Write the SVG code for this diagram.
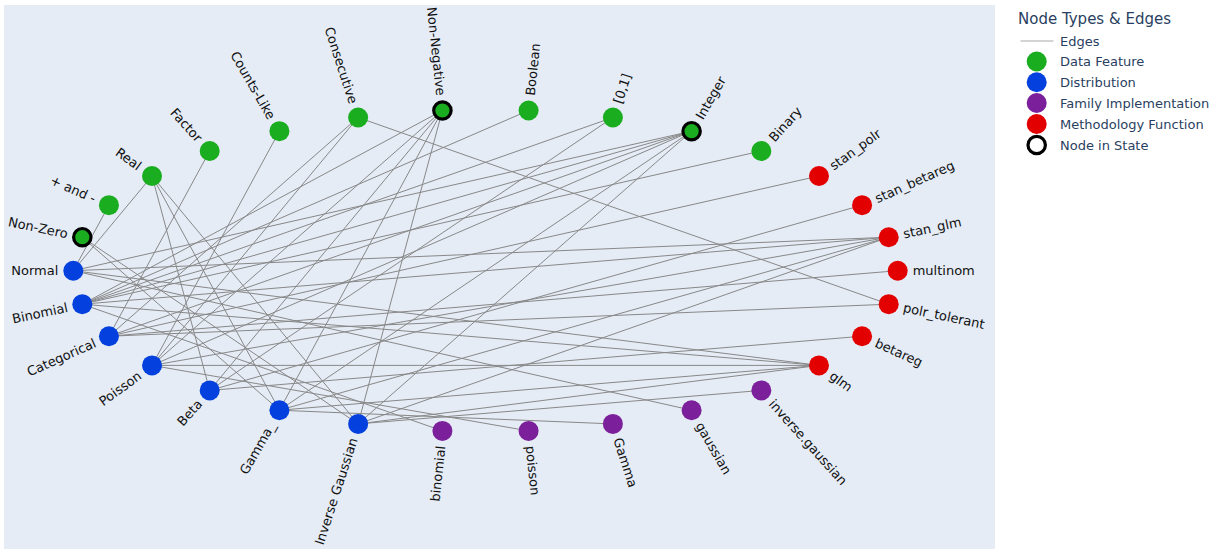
<svg xmlns="http://www.w3.org/2000/svg" width="1216" height="557" viewBox="0 0 1216 557">
<style>
.e{stroke:#888;stroke-width:1;fill:none}
.lbl{font-family:"DejaVu Sans",Verdana,sans-serif;font-size:13px;fill:#111}
.st{text-anchor:start}
.en{text-anchor:end}
.df{fill:#1aad1f}
.di{fill:#0340de}
.fi{fill:#7b1f9b}
.mf{fill:#e30000}
.ins{stroke:#000;stroke-width:3.2}
.leg{font-family:"DejaVu Sans",Verdana,sans-serif;font-size:13px;fill:#2a3f5f}
</style>
<rect x="0" y="0" width="1216" height="557" fill="#ffffff"/>
<rect x="4" y="5" width="991" height="544" fill="#e5ecf6"/>
<g id="edges">
<line class="e" x1="108.93" y1="205.17" x2="73.3" y2="270.7"/>
<line class="e" x1="152.02" y1="176.01" x2="73.3" y2="270.7"/>
<line class="e" x1="152.02" y1="176.01" x2="209.68" y2="390.42"/>
<line class="e" x1="152.02" y1="176.01" x2="279.4" y2="410.22"/>
<line class="e" x1="152.02" y1="176.01" x2="358.12" y2="423.92"/>
<line class="e" x1="82.31" y1="237.21" x2="279.4" y2="410.22"/>
<line class="e" x1="82.31" y1="237.21" x2="358.12" y2="423.92"/>
<line class="e" x1="209.68" y1="150.98" x2="108.93" y2="336.23"/>
<line class="e" x1="279.4" y1="131.18" x2="152.02" y2="365.39"/>
<line class="e" x1="358.12" y1="117.48" x2="108.93" y2="336.23"/>
<line class="e" x1="358.12" y1="117.48" x2="152.02" y2="365.39"/>
<line class="e" x1="358.12" y1="117.48" x2="888.69" y2="304.19"/>
<line class="e" x1="442.41" y1="110.48" x2="82.31" y2="304.19"/>
<line class="e" x1="442.41" y1="110.48" x2="152.02" y2="365.39"/>
<line class="e" x1="442.41" y1="110.48" x2="209.68" y2="390.42"/>
<line class="e" x1="442.41" y1="110.48" x2="279.4" y2="410.22"/>
<line class="e" x1="442.41" y1="110.48" x2="358.12" y2="423.92"/>
<line class="e" x1="528.59" y1="110.48" x2="82.31" y2="304.19"/>
<line class="e" x1="612.88" y1="117.48" x2="82.31" y2="304.19"/>
<line class="e" x1="612.88" y1="117.48" x2="209.68" y2="390.42"/>
<line class="e" x1="691.6" y1="131.18" x2="73.3" y2="270.7"/>
<line class="e" x1="691.6" y1="131.18" x2="82.31" y2="304.19"/>
<line class="e" x1="691.6" y1="131.18" x2="108.93" y2="336.23"/>
<line class="e" x1="691.6" y1="131.18" x2="152.02" y2="365.39"/>
<line class="e" x1="691.6" y1="131.18" x2="279.4" y2="410.22"/>
<line class="e" x1="691.6" y1="131.18" x2="358.12" y2="423.92"/>
<line class="e" x1="761.32" y1="150.98" x2="82.31" y2="304.19"/>
<line class="e" x1="818.98" y1="176.01" x2="108.93" y2="336.23"/>
<line class="e" x1="862.07" y1="205.17" x2="209.68" y2="390.42"/>
<line class="e" x1="888.69" y1="237.21" x2="73.3" y2="270.7"/>
<line class="e" x1="888.69" y1="237.21" x2="82.31" y2="304.19"/>
<line class="e" x1="888.69" y1="237.21" x2="152.02" y2="365.39"/>
<line class="e" x1="888.69" y1="237.21" x2="279.4" y2="410.22"/>
<line class="e" x1="888.69" y1="237.21" x2="358.12" y2="423.92"/>
<line class="e" x1="897.7" y1="270.7" x2="108.93" y2="336.23"/>
<line class="e" x1="888.69" y1="304.19" x2="108.93" y2="336.23"/>
<line class="e" x1="862.07" y1="336.23" x2="209.68" y2="390.42"/>
<line class="e" x1="818.98" y1="365.39" x2="73.3" y2="270.7"/>
<line class="e" x1="818.98" y1="365.39" x2="82.31" y2="304.19"/>
<line class="e" x1="818.98" y1="365.39" x2="152.02" y2="365.39"/>
<line class="e" x1="818.98" y1="365.39" x2="279.4" y2="410.22"/>
<line class="e" x1="818.98" y1="365.39" x2="358.12" y2="423.92"/>
<line class="e" x1="691.6" y1="410.22" x2="73.3" y2="270.7"/>
<line class="e" x1="442.41" y1="430.92" x2="82.31" y2="304.19"/>
<line class="e" x1="528.59" y1="430.92" x2="152.02" y2="365.39"/>
<line class="e" x1="612.88" y1="423.92" x2="279.4" y2="410.22"/>
<line class="e" x1="761.32" y1="390.42" x2="358.12" y2="423.92"/>
</g>
<g id="n-multinom"><circle class="mf" cx="897.7" cy="270.7" r="10"/><text class="lbl st" x="912.7" y="270.7" dy="0.35em">multinom</text></g>
<g id="n-stan_glm"><circle class="mf" cx="888.69" cy="237.21" r="10"/><text class="lbl st" x="903.36" y="234.09" dy="0.35em" transform="rotate(-12 903.36 234.09)">stan_glm</text></g>
<g id="n-stan_betareg"><circle class="mf" cx="862.07" cy="205.17" r="10"/><text class="lbl st" x="875.77" y="199.07" dy="0.35em" transform="rotate(-24 875.77 199.07)">stan_betareg</text></g>
<g id="n-stan_polr"><circle class="mf" cx="818.98" cy="176.01" r="10"/><text class="lbl st" x="831.12" y="167.19" dy="0.35em" transform="rotate(-36 831.12 167.19)">stan_polr</text></g>
<g id="n-binary"><circle class="df" cx="761.32" cy="150.98" r="10"/><text class="lbl st" x="771.36" y="139.83" dy="0.35em" transform="rotate(-48 771.36 139.83)">Binary</text></g>
<g id="n-integer"><circle class="df ins" cx="691.6" cy="131.18" r="8.7"/><text class="lbl st" x="699.1" y="118.19" dy="0.35em" transform="rotate(-60 699.1 118.19)">Integer</text></g>
<g id="n-01"><circle class="df" cx="612.88" cy="117.48" r="10"/><text class="lbl st" x="617.52" y="103.21" dy="0.35em" transform="rotate(-72 617.52 103.21)">[0,1]</text></g>
<g id="n-boolean"><circle class="df" cx="528.59" cy="110.48" r="10"/><text class="lbl st" x="530.16" y="95.56" dy="0.35em" transform="rotate(-84 530.16 95.56)">Boolean</text></g>
<g id="n-nonneg"><circle class="df ins" cx="442.41" cy="110.48" r="8.7"/><text class="lbl en" x="440.84" y="95.56" dy="0.35em" transform="rotate(84 440.84 95.56)">Non-Negative</text></g>
<g id="n-consecutive"><circle class="df" cx="358.12" cy="117.48" r="10"/><text class="lbl en" x="353.48" y="103.21" dy="0.35em" transform="rotate(72 353.48 103.21)">Consecutive</text></g>
<g id="n-countslike"><circle class="df" cx="279.4" cy="131.18" r="10"/><text class="lbl en" x="271.9" y="118.19" dy="0.35em" transform="rotate(60 271.9 118.19)">Counts-Like</text></g>
<g id="n-factor"><circle class="df" cx="209.68" cy="150.98" r="10"/><text class="lbl en" x="199.64" y="139.83" dy="0.35em" transform="rotate(48 199.64 139.83)">Factor</text></g>
<g id="n-real"><circle class="df" cx="152.02" cy="176.01" r="10"/><text class="lbl en" x="139.88" y="167.19" dy="0.35em" transform="rotate(36 139.88 167.19)">Real</text></g>
<g id="n-plusminus"><circle class="df" cx="108.93" cy="205.17" r="10"/><text class="lbl en" x="95.23" y="199.07" dy="0.35em" transform="rotate(24 95.23 199.07)">+ and -</text></g>
<g id="n-nonzero"><circle class="df ins" cx="82.31" cy="237.21" r="8.7"/><text class="lbl en" x="67.64" y="234.09" dy="0.35em" transform="rotate(12 67.64 234.09)">Non-Zero</text></g>
<g id="n-normal"><circle class="di" cx="73.3" cy="270.7" r="10"/><text class="lbl en" x="58.3" y="270.7" dy="0.35em">Normal</text></g>
<g id="n-binomialdist"><circle class="di" cx="82.31" cy="304.19" r="10"/><text class="lbl en" x="67.64" y="307.31" dy="0.35em" transform="rotate(-12 67.64 307.31)">Binomial</text></g>
<g id="n-categorical"><circle class="di" cx="108.93" cy="336.23" r="10"/><text class="lbl en" x="95.23" y="342.33" dy="0.35em" transform="rotate(-24 95.23 342.33)">Categorical</text></g>
<g id="n-poissondist"><circle class="di" cx="152.02" cy="365.39" r="10"/><text class="lbl en" x="139.88" y="374.21" dy="0.35em" transform="rotate(-36 139.88 374.21)">Poisson</text></g>
<g id="n-beta"><circle class="di" cx="209.68" cy="390.42" r="10"/><text class="lbl en" x="199.64" y="401.57" dy="0.35em" transform="rotate(-48 199.64 401.57)">Beta</text></g>
<g id="n-gammadist"><circle class="di" cx="279.4" cy="410.22" r="10"/><text class="lbl en" x="271.9" y="423.21" dy="0.35em" transform="rotate(-60 271.9 423.21)">Gamma_</text></g>
<g id="n-invgauss"><circle class="di" cx="358.12" cy="423.92" r="10"/><text class="lbl en" x="353.48" y="438.19" dy="0.35em" transform="rotate(-72 353.48 438.19)">Inverse Gaussian</text></g>
<g id="n-binomialfam"><circle class="fi" cx="442.41" cy="430.92" r="10"/><text class="lbl en" x="440.84" y="445.84" dy="0.35em" transform="rotate(-84 440.84 445.84)">binomial</text></g>
<g id="n-poissonfam"><circle class="fi" cx="528.59" cy="430.92" r="10"/><text class="lbl st" x="530.16" y="445.84" dy="0.35em" transform="rotate(84 530.16 445.84)">poisson</text></g>
<g id="n-gammafam"><circle class="fi" cx="612.88" cy="423.92" r="10"/><text class="lbl st" x="617.52" y="438.19" dy="0.35em" transform="rotate(72 617.52 438.19)">Gamma</text></g>
<g id="n-gaussianfam"><circle class="fi" cx="691.6" cy="410.22" r="10"/><text class="lbl st" x="699.1" y="423.21" dy="0.35em" transform="rotate(60 699.1 423.21)">gaussian</text></g>
<g id="n-invgaussfam"><circle class="fi" cx="761.32" cy="390.42" r="10"/><text class="lbl st" x="771.36" y="401.57" dy="0.35em" transform="rotate(48 771.36 401.57)">inverse.gaussian</text></g>
<g id="n-glm"><circle class="mf" cx="818.98" cy="365.39" r="10"/><text class="lbl st" x="831.12" y="374.21" dy="0.35em" transform="rotate(36 831.12 374.21)">glm</text></g>
<g id="n-betareg"><circle class="mf" cx="862.07" cy="336.23" r="10"/><text class="lbl st" x="875.77" y="342.33" dy="0.35em" transform="rotate(24 875.77 342.33)">betareg</text></g>
<g id="n-polr_tolerant"><circle class="mf" cx="888.69" cy="304.19" r="10"/><text class="lbl st" x="903.36" y="307.31" dy="0.35em" transform="rotate(12 903.36 307.31)">polr_tolerant</text></g>
<g id="legend">
<text class="leg" x="1018" y="24" style="font-size:15px">Node Types &amp; Edges</text>
<line x1="1020.5" y1="41" x2="1053.5" y2="41" stroke="#aaa" stroke-width="1.2"/>
<text class="leg" x="1060" y="46">Edges</text>
<circle class="df" cx="1036.7" cy="61.5" r="10"/>
<text class="leg" x="1060" y="66">Data Feature</text>
<circle class="di" cx="1036.7" cy="82.3" r="10"/>
<text class="leg" x="1060" y="87">Distribution</text>
<circle class="fi" cx="1036.7" cy="103" r="10"/>
<text class="leg" x="1060" y="108">Family Implementation</text>
<circle class="mf" cx="1036.7" cy="124" r="10"/>
<text class="leg" x="1060" y="128.7">Methodology Function</text>
<circle cx="1036.7" cy="145" r="8.7" fill="none" stroke="#000" stroke-width="3.2"/>
<text class="leg" x="1060" y="150">Node in State</text>
</g>
</svg>
